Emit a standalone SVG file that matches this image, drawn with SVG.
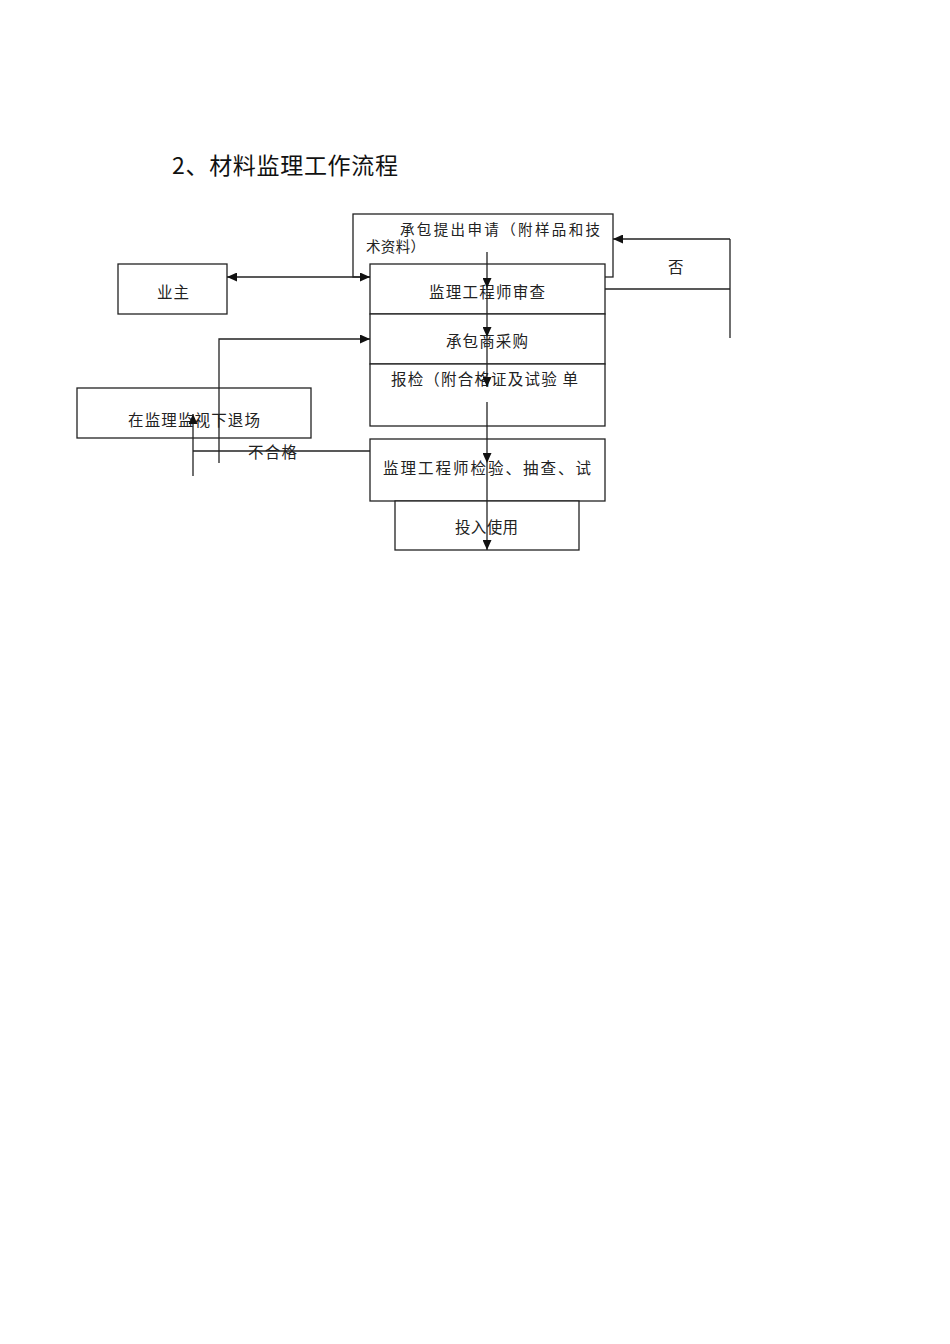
<svg xmlns="http://www.w3.org/2000/svg" width="950" height="1344" viewBox="0 0 950 1344">
<style>
.box{fill:#fff;stroke:#222;stroke-width:1.3}
.t{font-family:"Noto Sans CJK SC","Noto Sans",sans-serif;font-size:15.5px;fill:#222}
.s{font-family:"Liberation Sans","Noto Sans CJK SC",sans-serif;font-size:14.5px}
.ttl{font-family:"Noto Sans CJK SC","Noto Sans",sans-serif;font-size:23px;fill:#111}
.c{fill:none;stroke:#222;stroke-width:1.3}
</style>
<defs>
<marker id="ah" markerUnits="userSpaceOnUse" markerWidth="10" markerHeight="9" refX="10" refY="4.5" orient="auto-start-reverse">
<path d="M0,0 L10,4.5 L0,9 z" fill="#111"/>
</marker>
</defs>
<rect width="950" height="1344" fill="#fff"/>
<text class="ttl" x="172" y="174" textLength="226" lengthAdjust="spacing">2、材料监理工作流程</text>

<g id="n-apply">
<rect class="box" x="353" y="214" width="260" height="63"/>
<text class="t s" x="400" y="234.5" textLength="200" lengthAdjust="spacing">承包提出申请（附样品和技</text>
<text class="t s" x="366" y="251.5" textLength="59" lengthAdjust="spacing">术资料）</text>
</g>
<g id="n-review">
<rect class="box" x="370" y="264" width="235" height="50"/>
<text class="t" x="429" y="298" textLength="116" lengthAdjust="spacing">监理工程师审查</text>
</g>
<g id="n-purchase">
<rect class="box" x="370" y="314" width="235" height="50"/>
<text class="t" x="446" y="347" textLength="82" lengthAdjust="spacing">承包商采购</text>
</g>
<g id="n-report">
<rect class="box" x="370" y="364" width="235" height="62"/>
<text class="t" x="391" y="385" textLength="187" lengthAdjust="spacing">报检（附合格证及试验 单</text>
</g>
<g id="n-inspect">
<rect class="box" x="370" y="439" width="235" height="62"/>
<text class="t" x="383" y="474" textLength="208" lengthAdjust="spacing">监理工程师检验、抽查、试</text>
</g>
<g id="n-use">
<rect class="box" x="395" y="501" width="184" height="49"/>
<text class="t" x="455" y="533" textLength="63" lengthAdjust="spacing">投入使用</text>
</g>
<g id="n-owner">
<rect class="box" x="118" y="264" width="109" height="50"/>
<text class="t" x="157" y="298" textLength="32" lengthAdjust="spacing">业主</text>
</g>
<g id="n-exit">
<rect class="box" x="77" y="388" width="234" height="50"/>
<text class="t" x="128" y="426" textLength="132" lengthAdjust="spacing">在监理监视下退场</text>
</g>

<g id="connectors">
<line class="c" x1="227" y1="277" x2="370" y2="277" marker-start="url(#ah)" marker-end="url(#ah)"/>
<polyline class="c" points="219,463 219,339 370,339" marker-end="url(#ah)"/>
<line class="c" x1="605" y1="289" x2="730" y2="289"/>
<line class="c" x1="730" y1="338" x2="730" y2="239"/>
<line class="c" x1="730" y1="239" x2="613" y2="239" marker-end="url(#ah)"/>
<text class="t" x="668" y="273">否</text>
<line class="c" x1="370" y1="451" x2="193" y2="451"/>
<line class="c" x1="193" y1="476" x2="193" y2="414" marker-end="url(#ah)"/>
<text class="t" x="248" y="458" textLength="49" lengthAdjust="spacing">不合格</text>
<line class="c" x1="487" y1="252" x2="487" y2="288" marker-end="url(#ah)"/>
<line class="c" x1="487" y1="288" x2="487" y2="337" marker-end="url(#ah)"/>
<line class="c" x1="487" y1="337" x2="487" y2="387" marker-end="url(#ah)"/>
<line class="c" x1="487" y1="402" x2="487" y2="463" marker-end="url(#ah)"/>
<line class="c" x1="487" y1="463" x2="487" y2="550" marker-end="url(#ah)"/>
</g>
</svg>
